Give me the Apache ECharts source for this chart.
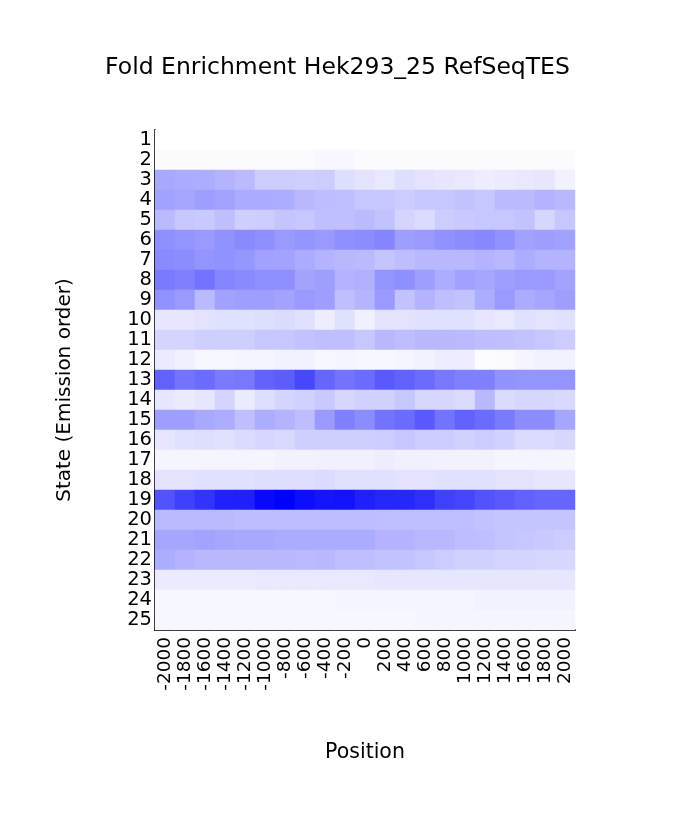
<!DOCTYPE html>
<html><head><meta charset="utf-8">
<script src="https://cdn.jsdelivr.net/npm/echarts@6/dist/echarts.min.js"></script>
<style>html,body{margin:0;padding:0;background:#fff}#c{width:675px;height:817px}</style>
</head><body><div id="c"></div>
<script>
const positions = ['-2000','-1800','-1600','-1400','-1200','-1000','-800','-600','-400','-200','0','200','400','600','800','1000','1200','1400','1600','1800','2000'];
const states = ['1','2','3','4','5','6','7','8','9','10','11','12','13','14','15','16','17','18','19','20','21','22','23','24','25'];
const s1  = [0,0,0,0,0,0,0,0,0,0,0,0,0,0,0,0,0,0,0,0,0];
const s2  = [2,2,2,2,2,2,2,2,3,3,2,2,2,2,2,2,2,2,2,2,2];
const s3  = [34,33,32,30,27,20,20,19,20,13,11,9,13,11,10,9,7,8,9,10,5];
const s4  = [37,35,38,36,33,33,32,28,26,25,22,22,20,22,22,24,22,27,27,30,28];
const s5  = [27,22,21,25,19,20,23,22,25,25,27,24,17,14,20,21,22,22,24,16,22];
const s6  = [44,42,40,43,46,44,40,42,40,44,45,48,38,40,43,45,47,43,37,38,37];
const s7  = [46,45,42,43,41,37,36,33,30,28,27,23,26,28,28,28,30,28,32,30,30];
const s8  = [52,50,55,48,46,44,44,36,38,30,31,42,44,38,32,37,35,38,40,40,36];
const s9  = [43,40,27,37,38,38,36,40,38,25,29,40,24,30,25,24,32,40,33,35,38];
const s10 = [10,10,11,12,12,13,14,12,7,12,6,11,11,12,12,12,10,9,12,11,12];
const s11 = [17,17,19,19,19,22,22,24,25,25,22,28,26,28,28,27,26,25,24,22,20];
const s12 = [8,6,3,3,4,4,5,5,3,4,3,3,4,5,7,7,1,2,4,5,5];
const s13 = [62,55,58,52,53,62,64,72,60,55,58,65,62,58,53,50,50,43,42,42,42];
const s14 = [10,8,10,17,8,13,17,18,21,16,18,18,22,16,16,14,28,14,16,16,15];
const s15 = [38,38,34,32,25,32,30,26,40,50,45,55,58,65,55,62,58,52,45,45,35];
const s16 = [10,12,13,12,14,16,15,19,19,19,19,20,22,20,20,18,20,18,14,14,16];
const s17 = [4,4,4,4,4,4,5,5,6,6,6,7,6,6,5,5,5,4,4,4,4];
const s18 = [11,11,12,12,12,13,13,13,14,12,12,12,11,11,12,12,12,11,11,10,10];
const s19 = [68,75,80,87,88,97,100,95,92,93,88,85,85,82,75,73,68,65,62,60,60];
const s20 = [27,27,27,27,26,26,26,26,26,26,26,25,25,25,25,25,24,23,23,23,23];
const s21 = [35,35,36,35,34,34,33,33,33,33,33,30,30,28,28,26,25,23,22,21,20];
const s22 = [32,30,28,28,28,28,28,27,28,25,25,24,24,22,20,18,18,17,17,16,16];
const s23 = [8,8,8,8,8,9,9,9,9,9,9,10,10,10,10,10,10,10,10,10,10];
const s24 = [3,3,3,3,3,3,3,3,3,4,4,4,4,4,4,4,5,5,5,5,5];
const s25 = [3,3,3,3,3,3,3,3,3,3,3,3,3,4,4,4,4,4,4,4,4];
const rows = [s1,s2,s3,s4,s5,s6,s7,s8,s9,s10,s11,s12,s13,s14,s15,s16,s17,s18,s19,s20,s21,s22,s23,s24,s25];

const data = [];
rows.forEach((r, yi) => r.forEach((v, xi) => data.push([xi, yi, v])));

const font = 'DejaVu Sans';
const chart = echarts.init(document.getElementById('c'));
chart.setOption({
  animation: false,
  title: { text: 'Fold Enrichment Hek293_25 RefSeqTES', left: 'center', top: 51,
    textStyle: { fontFamily: font, fontSize: 23.5, fontWeight: 'normal', color: '#000' } },
  grid: { left: 155, top: 130, width: 420, height: 500 },
  xAxis: { type: 'category', data: positions,
    axisLine: { lineStyle: { color: '#000', width: 2 } }, axisTick: { show: false },
    axisLabel: { rotate: 90, interval: 0, fontFamily: font, fontSize: 18.5, color: '#000', margin: 7 },
    splitLine: { show: false } },
  yAxis: { type: 'category', data: states, inverse: true,
    axisLine: { lineStyle: { color: '#000', width: 2 } }, axisTick: { show: false },
    axisLabel: { interval: 0, fontFamily: font, fontSize: 19.5, color: '#000', margin: 3 },
    splitLine: { show: false } },
  visualMap: { show: false, min: 0, max: 100, inRange: { color: ['#ffffff', '#0000ff'] } },
  series: [{ type: 'heatmap', data: data, itemStyle: { borderWidth: 0 } }],
  graphic: [
    { type: 'text', x: 65, y: 390, rotation: Math.PI / 2,
      style: { text: 'State (Emission order)', font: '20px "DejaVu Sans"', fill: '#000', align: 'center', verticalAlign: 'middle' } },
    { type: 'text', x: 365, y: 753,
      style: { text: 'Position', font: '20.5px "DejaVu Sans"', fill: '#000', align: 'center', verticalAlign: 'middle' } }
  ]
});
</script></body></html>
